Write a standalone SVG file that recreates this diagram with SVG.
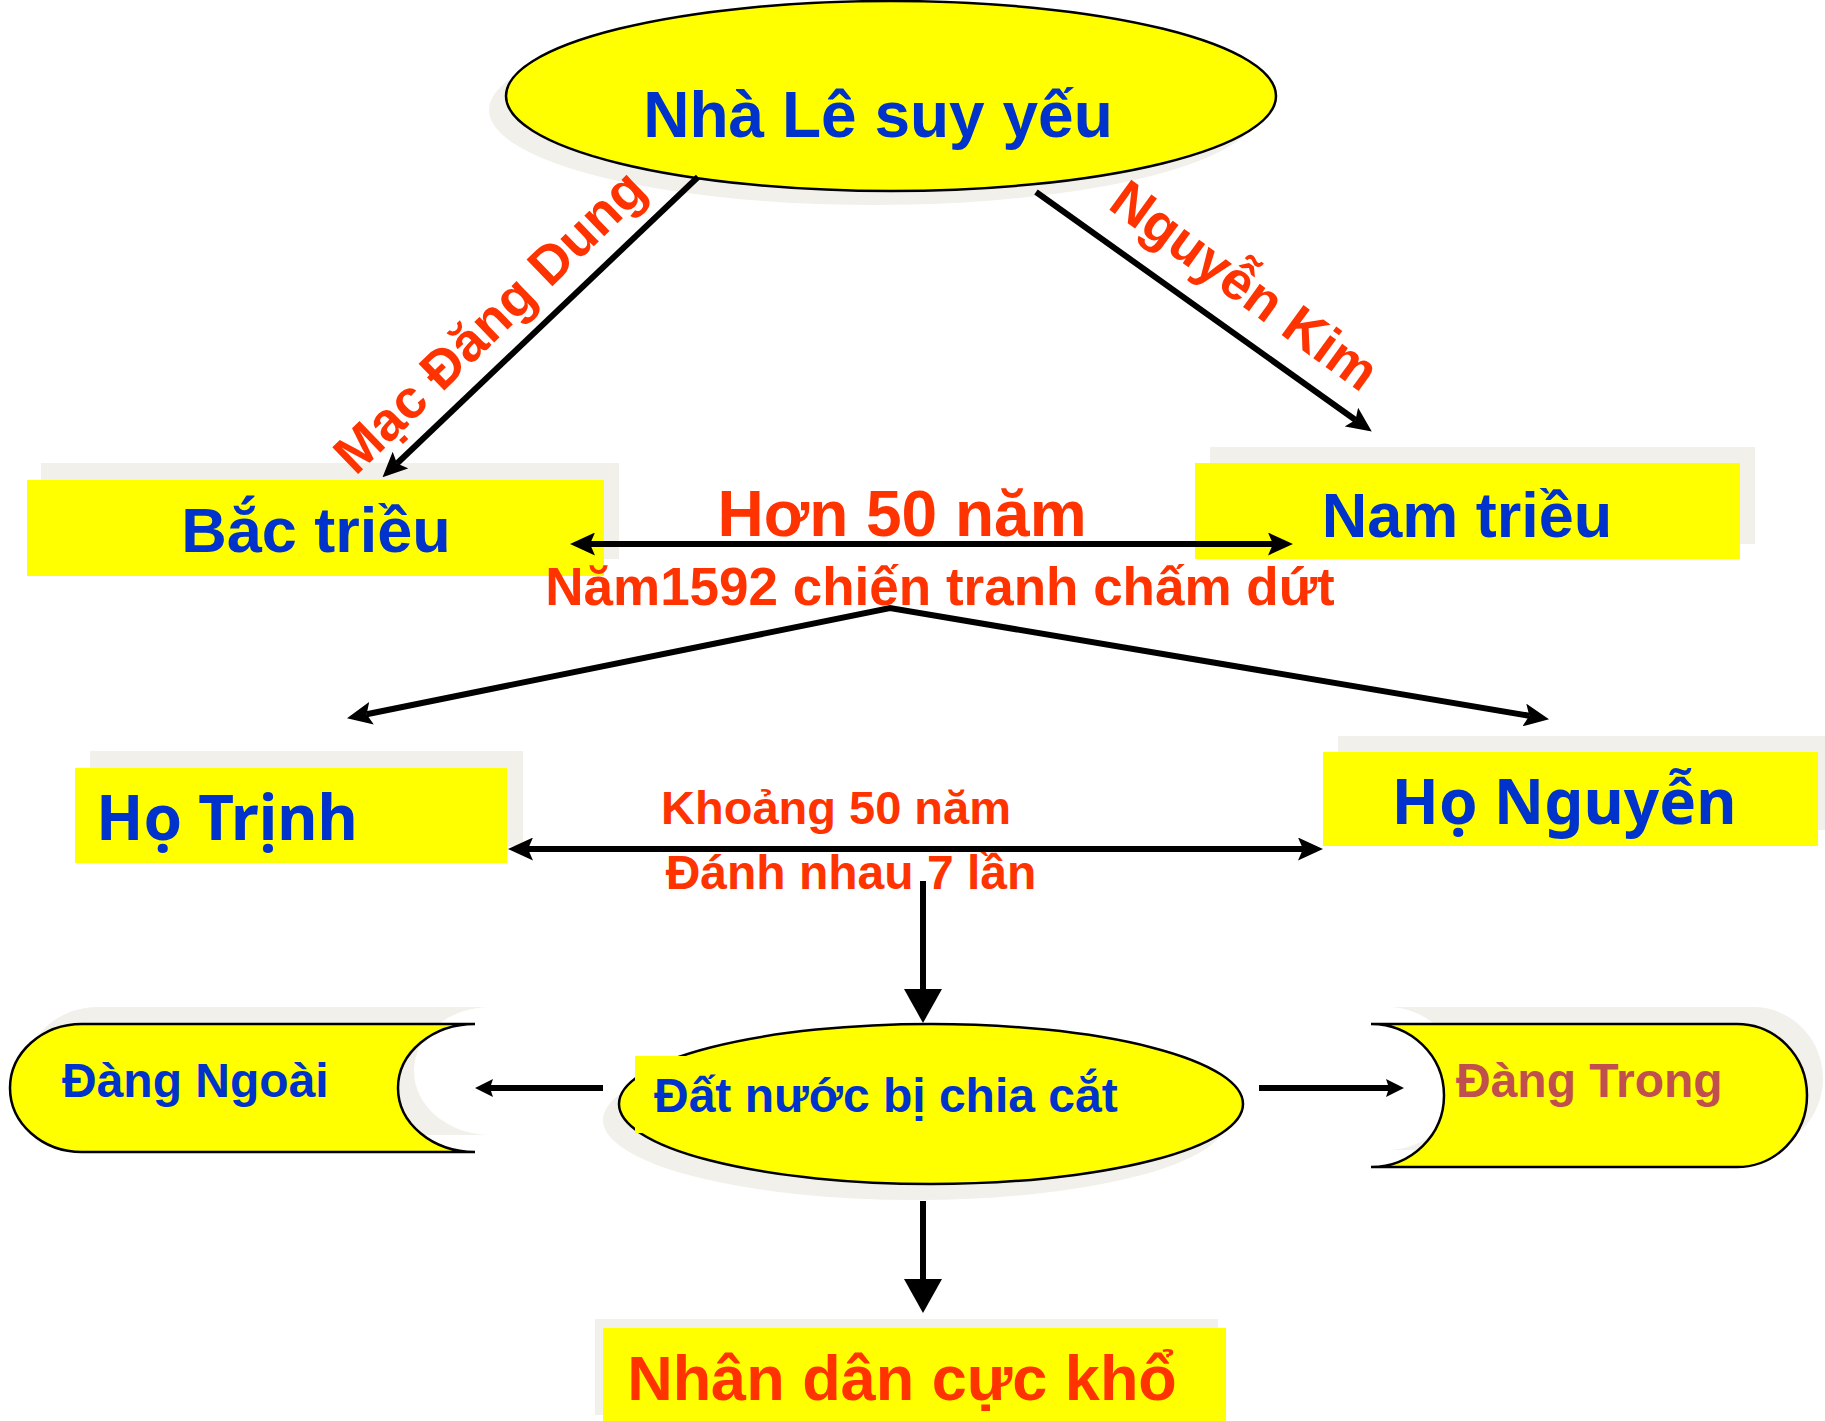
<svg xmlns="http://www.w3.org/2000/svg" width="1825" height="1421" viewBox="0 0 1825 1421">
<style>
.shadow{fill:#f1f0eb;stroke:none}
.yel{fill:#ffff00;stroke:none}
.yels{fill:#ffff00;stroke:#000;stroke-width:2.5}
.t{font-family:"Liberation Sans",Arial,sans-serif;font-weight:bold}
.h{font-family:"Noto Sans","DejaVu Sans",sans-serif;font-weight:bold}
.blue{fill:#0033cc}
.red{fill:#ff3300}
.line{stroke:#000;fill:none;stroke-width:6}
</style>
<defs>
<marker id="ah" markerUnits="userSpaceOnUse" markerWidth="25" markerHeight="23" refX="5" refY="11.5" orient="auto-start-reverse">
<path d="M0,0 L25,11.5 L0,23 L5,11.5 Z" fill="#000"/>
</marker>
<marker id="big" markerUnits="userSpaceOnUse" markerWidth="34" markerHeight="38" refX="1" refY="19" orient="auto">
<path d="M0,0 L34,19 L0,38 Z" fill="#000"/>
</marker>
<marker id="sm" markerUnits="userSpaceOnUse" markerWidth="18" markerHeight="18" refX="3" refY="9" orient="auto">
<path d="M0,0 L18,9 L0,18 L3,9 Z" fill="#000"/>
</marker>
</defs>

<g id="nha-le">
<ellipse class="shadow" cx="874" cy="110" rx="385" ry="95"/>
<ellipse class="yels" cx="891" cy="96" rx="385" ry="95"/>
<text class="t blue" x="878" y="137" font-size="64" text-anchor="middle">Nhà Lê suy yếu</text>
</g>

<g id="bac-trieu">
<rect class="shadow" x="41" y="463" width="578" height="96"/>
<rect class="yel" x="27" y="480" width="577" height="96"/>
<text class="t blue" x="316" y="552" font-size="63" text-anchor="middle">Bắc triều</text>
</g>

<g id="nam-trieu">
<rect class="shadow" x="1210" y="447" width="545" height="97"/>
<rect class="yel" x="1195" y="463" width="545" height="96"/>
<text class="t blue" x="1467" y="537" font-size="63" text-anchor="middle">Nam triều</text>
</g>

<g id="ho-trinh">
<rect class="shadow" x="90" y="751" width="433" height="95"/>
<rect class="yel" x="75" y="768" width="432" height="95"/>
<text class="h blue" x="96" y="840" font-size="62">Họ Trịnh</text>
</g>

<g id="ho-nguyen">
<rect class="shadow" x="1338" y="736" width="487" height="94"/>
<rect class="yel" x="1323" y="752" width="495" height="94"/>
<text class="h blue" x="1564" y="824" font-size="62" text-anchor="middle">Họ Nguyễn</text>
</g>

<g id="dat-nuoc">
<ellipse class="shadow" cx="915" cy="1120" rx="312" ry="80"/>
<ellipse class="yels" cx="931" cy="1104" rx="312" ry="80"/>
<rect class="yel" x="635" y="1056" width="515" height="77"/>
<text class="t blue" x="654" y="1112" font-size="48">Đất nước bị chia cắt</text>
</g>

<g id="dang-ngoai">
<path class="shadow" d="M98,1007 L491,1007 A77,64 0 0 0 491,1135 L98,1135 A72,64 0 0 1 98,1007 Z"/>
<path class="yels" d="M82,1024 L475,1024 A77,64 0 0 0 475,1152 L82,1152 A72,64 0 0 1 82,1024 Z"/>
<text class="t blue" x="62" y="1097" font-size="48">Đàng Ngoài</text>
</g>

<g id="dang-trong">
<path class="shadow" d="M1387,1007 L1753,1007 A70,71.5 0 0 1 1753,1150 L1387,1150 A73,71.5 0 0 0 1387,1007 Z"/>
<path class="yels" d="M1371,1024 L1737,1024 A70,71.5 0 0 1 1737,1167 L1371,1167 A73,71.5 0 0 0 1371,1024 Z"/>
<text class="t" fill="#c0504d" x="1456" y="1097" font-size="48">Đàng Trong</text>
</g>

<g id="nhan-dan">
<rect class="shadow" x="595" y="1319" width="623" height="96"/>
<rect class="yel" x="603" y="1328" width="623" height="93"/>
<text class="t red" x="902" y="1400" font-size="63" text-anchor="middle">Nhân dân cực khổ</text>
</g>

<g id="labels">
<text class="t red" font-size="54" text-anchor="middle" transform="translate(489,321) rotate(-44)" y="19">Mạc Đăng Dung</text>
<text class="t red" font-size="54" text-anchor="middle" transform="translate(1245,285) rotate(36)" y="19">Nguyễn Kim</text>
<text class="t red" x="902" y="536" font-size="64" text-anchor="middle">Hơn 50 năm</text>
<text class="t red" x="940" y="605" font-size="53" text-anchor="middle">Năm1592 chiến tranh chấm dứt</text>
<text class="t red" x="836" y="824" font-size="47" text-anchor="middle">Khoảng 50 năm</text>
<text class="t red" x="851" y="889" font-size="48" text-anchor="middle">Đánh nhau 7 lần</text>
</g>

<g id="connectors">
<line class="line" x1="698" y1="177" x2="397" y2="463.5" marker-end="url(#ah)"/>
<line class="line" x1="1036" y1="192" x2="1355.5" y2="420" marker-end="url(#ah)"/>
<line class="line" x1="590" y1="544" x2="1273" y2="544" stroke-width="7" marker-start="url(#ah)" marker-end="url(#ah)"/>
<path class="line" d="M366.6,714.2 L890,608 L1529.3,715.8" marker-start="url(#ah)" marker-end="url(#ah)"/>
<line class="line" x1="528" y1="849" x2="1303" y2="849" marker-start="url(#ah)" marker-end="url(#ah)"/>
<line class="line" x1="923" y1="881" x2="923" y2="990" stroke-width="13" marker-end="url(#big)"/>
<line class="line" x1="923" y1="1201" x2="923" y2="1280" stroke-width="13" marker-end="url(#big)"/>
<line class="line" x1="603" y1="1088" x2="490" y2="1088" stroke-width="5" marker-end="url(#sm)"/>
<line class="line" x1="1259" y1="1088" x2="1389" y2="1088" stroke-width="5" marker-end="url(#sm)"/>
</g>
</svg>
